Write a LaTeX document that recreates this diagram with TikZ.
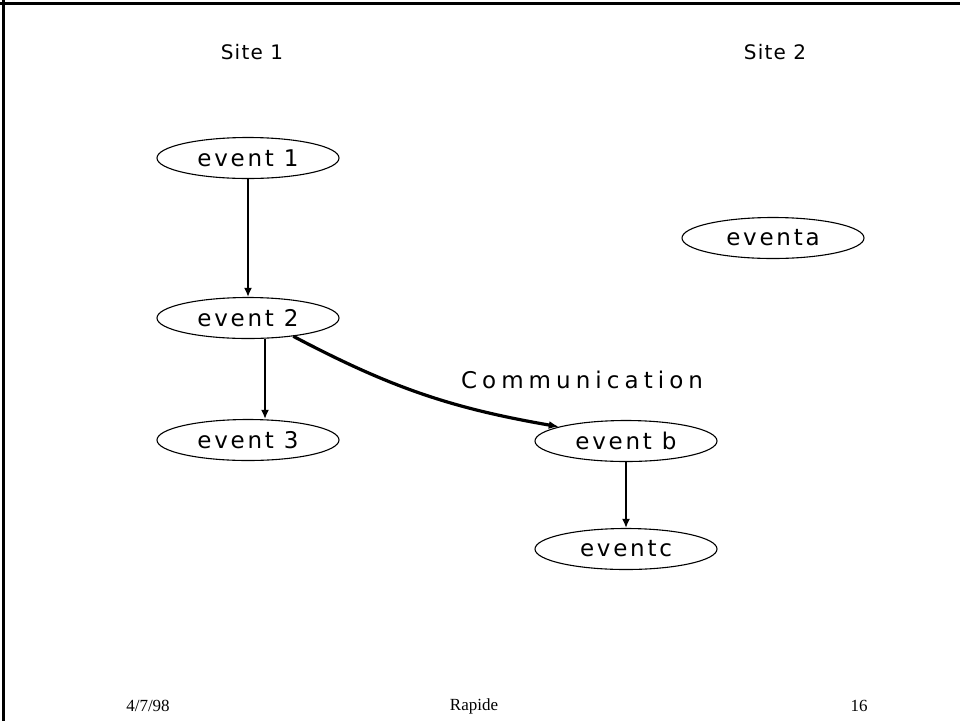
\documentclass[tikz,border=0pt]{standalone}
\usepackage{fontspec}
\setmainfont{Liberation Serif}
\newfontfamily\lblfont{DejaVu Sans}[LetterSpace=12]
\newfontfamily\commfont{DejaVu Sans}[LetterSpace=22]
\newfontfamily\sitefont{DejaVu Sans}[LetterSpace=6]
\usetikzlibrary{shapes.geometric,arrows.meta}
\begin{document}
\begin{tikzpicture}[x=1pt,y=-1pt,
  evt/.style={draw,ellipse,line width=1.1pt,minimum width=182pt,minimum height=41pt,inner sep=0pt,font=\lblfont\fontsize{23}{26}\selectfont},
  arr/.style={line width=1.8pt,-{Latex[length=9pt,width=8pt]}},
  site/.style={font=\sitefont\fontsize{20}{23}\selectfont},
  foot/.style={font=\fontsize{17}{20}\selectfont}]
\useasboundingbox (0,0) rectangle (960,721);
\fill[white] (0,0) rectangle (960,721);
\draw[line width=3pt] (0,3) -- (960,3);
\draw[line width=3pt] (3,0) -- (3,721);
\node[site] (s1) at (252,52) {Site 1};
\node[site] (s2) at (775,52) {Site 2};
\node[evt] (e1) at (248,158) {event 1};
\node[evt] (e2) at (248,318) {event 2};
\node[evt] (e3) at (248,440) {event 3};
\node[evt] (ea) at (773,238) {eventa};
\node[evt] (eb) at (626,441) {event b};
\node[evt] (ec) at (626,549) {eventc};
\node[font=\commfont\fontsize{23}{26}\selectfont] (comm) at (582,380) {Communication};
\draw[arr] (e1) -- (e2);
\draw[arr] ([xshift=17pt]e2.south) -- ([xshift=17pt]e3.north);
\draw[arr] (eb) -- (ec);
\draw[line width=3.2pt,-{Latex[length=10pt,width=8pt]}] (e2.-22) to[bend right=9] (eb.168);
\node[foot] (date) at (148,706) {4/7/98};
\node[foot] (title) at (474,706) {Rapide};
\node[foot] (num) at (859,706) {16};
\end{tikzpicture}
\end{document}
